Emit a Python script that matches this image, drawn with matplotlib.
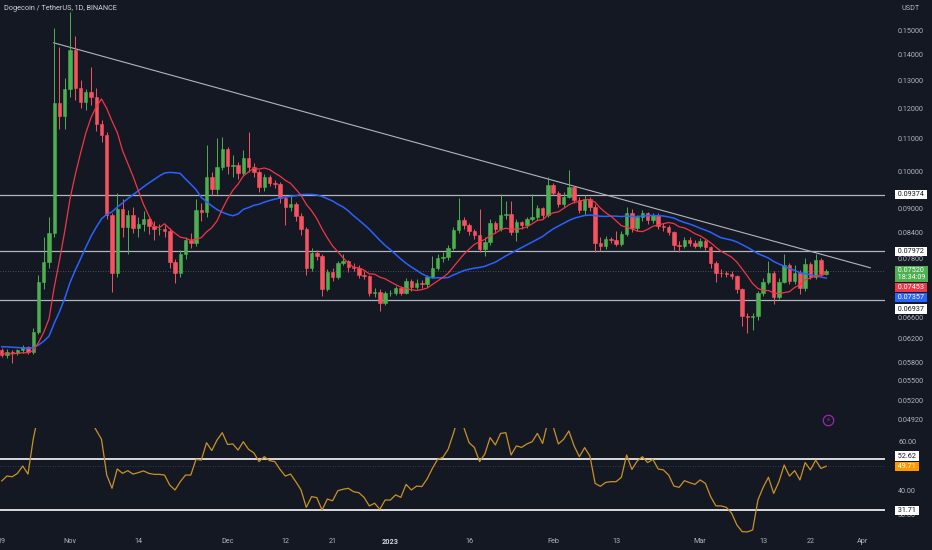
import numpy as np
import pandas as pd
import matplotlib
matplotlib.use("Agg")
import matplotlib.pyplot as plt
from matplotlib.ticker import NullLocator, NullFormatter

plt.rcParams['font.family'] = ['Roboto', 'DejaVu Sans']

# ---------------- data (day index 0 = 1 Nov 2022) ----------------
first_day = -13
first_open = 0.0600
closes = [
    0.0592, 0.0597, 0.0596, 0.0600, 0.0605, 0.0597, 0.0633, 0.0730, 0.0773, 0.0840,
    0.1218, 0.1174, 0.1269, 0.1418, 0.1272, 0.1222, 0.1257, 0.1240, 0.1147, 0.1112,
    0.0884, 0.0749, 0.0899, 0.0854, 0.0884, 0.0851, 0.0861, 0.0873, 0.0856, 0.0849,
    0.0850, 0.0845, 0.0773, 0.0749, 0.0791, 0.0823, 0.0816, 0.0897, 0.0892, 0.0986,
    0.0953, 0.1014, 0.1068, 0.1017, 0.1020, 0.0997, 0.1041, 0.1014, 0.1000, 0.0958,
    0.0986, 0.0969, 0.0967, 0.0928, 0.0904, 0.0912, 0.0881, 0.0849, 0.0760, 0.0793,
    0.0786, 0.0715, 0.0751, 0.0740, 0.0771, 0.0775, 0.0762, 0.0760, 0.0745, 0.0742,
    0.0706, 0.0710, 0.0687, 0.0706, 0.0708, 0.0717, 0.0708, 0.0732, 0.0720, 0.0727,
    0.0725, 0.0740, 0.0760, 0.0781, 0.0783, 0.0805, 0.0847, 0.0871, 0.0860, 0.0844,
    0.0834, 0.0802, 0.0818, 0.0864, 0.0849, 0.0884, 0.0887, 0.0842, 0.0866, 0.0858,
    0.0873, 0.0878, 0.0902, 0.0884, 0.0963, 0.0942, 0.0912, 0.0931, 0.0958, 0.0923,
    0.0897, 0.0926, 0.0904, 0.0816, 0.0809, 0.0825, 0.0822, 0.0814, 0.0837, 0.0889,
    0.0851, 0.0878, 0.0888, 0.0871, 0.0884, 0.0857, 0.0855, 0.0842, 0.0811, 0.0810,
    0.0823, 0.0816, 0.0810, 0.0821, 0.0807, 0.0771, 0.0749, 0.0748, 0.0747, 0.0742,
    0.0715, 0.0662, 0.0660, 0.0662, 0.0706, 0.0730, 0.0749, 0.0699, 0.0730, 0.0766,
    0.0732, 0.0749, 0.0717, 0.0768, 0.0740, 0.0777, 0.0747, 0.0752,
]
highs = [
    0.0604, 0.0602, 0.0601, 0.0603, 0.0610, 0.0608, 0.0640, 0.0745, 0.0830, 0.0880,
    0.1510, 0.1430, 0.1310, 0.1580, 0.1477, 0.1300, 0.1270, 0.1350, 0.1272, 0.1160,
    0.1120, 0.0890, 0.0942, 0.0925, 0.0897, 0.0905, 0.0880, 0.0895, 0.0880, 0.0870,
    0.0862, 0.0858, 0.0852, 0.0780, 0.0800, 0.0830, 0.0840, 0.0925, 0.0915, 0.1080,
    0.1000, 0.1102, 0.1105, 0.1075, 0.1050, 0.1030, 0.1065, 0.1120, 0.1025, 0.1005,
    0.0995, 0.0992, 0.0978, 0.0972, 0.0935, 0.0935, 0.0918, 0.0890, 0.0855, 0.0805,
    0.0800, 0.0790, 0.0758, 0.0760, 0.0776, 0.0790, 0.0778, 0.0770, 0.0765, 0.0752,
    0.0745, 0.0718, 0.0715, 0.0712, 0.0714, 0.0722, 0.0722, 0.0738, 0.0736, 0.0735,
    0.0733, 0.0745, 0.0785, 0.0790, 0.0795, 0.0812, 0.0855, 0.0929, 0.0880, 0.0865,
    0.0850, 0.0900, 0.0830, 0.0875, 0.0870, 0.0940, 0.0920, 0.0920, 0.0875, 0.0870,
    0.0880, 0.0940, 0.0910, 0.0905, 0.0985, 0.0968, 0.0948, 0.0945, 0.1005, 0.0962,
    0.0930, 0.0935, 0.0930, 0.0912, 0.0830, 0.0832, 0.0830, 0.0845, 0.0845, 0.0905,
    0.0900, 0.0885, 0.0898, 0.0892, 0.0890, 0.0888, 0.0865, 0.0860, 0.0845, 0.0820,
    0.0830, 0.0830, 0.0822, 0.0828, 0.0825, 0.0810, 0.0775, 0.0758, 0.0754, 0.0752,
    0.0745, 0.0718, 0.0668, 0.0668, 0.0712, 0.0738, 0.0775, 0.0752, 0.0738, 0.0790,
    0.0770, 0.0765, 0.0755, 0.0782, 0.0772, 0.0790, 0.0782, 0.0758,
]
lows = [
    0.0588, 0.0587, 0.0578, 0.0592, 0.0596, 0.0593, 0.0594, 0.0628, 0.0715, 0.0760,
    0.0830, 0.1130, 0.1130, 0.1240, 0.1230, 0.1200, 0.1195, 0.1210, 0.1125, 0.1090,
    0.0875, 0.0710, 0.0740, 0.0830, 0.0790, 0.0840, 0.0830, 0.0845, 0.0838, 0.0823,
    0.0835, 0.0830, 0.0760, 0.0728, 0.0740, 0.0780, 0.0805, 0.0810, 0.0870, 0.0880,
    0.0935, 0.0940, 0.1005, 0.0995, 0.0985, 0.0980, 0.0990, 0.1000, 0.0985, 0.0945,
    0.0948, 0.0960, 0.0955, 0.0915, 0.0860, 0.0895, 0.0870, 0.0835, 0.0745, 0.0752,
    0.0778, 0.0700, 0.0712, 0.0732, 0.0735, 0.0765, 0.0750, 0.0752, 0.0738, 0.0735,
    0.0700, 0.0698, 0.0672, 0.0684, 0.0700, 0.0703, 0.0702, 0.0705, 0.0712, 0.0715,
    0.0718, 0.0720, 0.0737, 0.0755, 0.0772, 0.0778, 0.0800, 0.0840, 0.0850, 0.0835,
    0.0825, 0.0795, 0.0785, 0.0812, 0.0840, 0.0845, 0.0875, 0.0835, 0.0820, 0.0850,
    0.0852, 0.0868, 0.0872, 0.0875, 0.0880, 0.0935, 0.0905, 0.0905, 0.0928, 0.0915,
    0.0888, 0.0885, 0.0895, 0.0795, 0.0798, 0.0802, 0.0815, 0.0810, 0.0808, 0.0832,
    0.0842, 0.0845, 0.0870, 0.0862, 0.0865, 0.0850, 0.0845, 0.0835, 0.0800, 0.0795,
    0.0805, 0.0810, 0.0805, 0.0805, 0.0800, 0.0760, 0.0730, 0.0740, 0.0740, 0.0735,
    0.0708, 0.0643, 0.0630, 0.0636, 0.0655, 0.0700, 0.0725, 0.0685, 0.0695, 0.0728,
    0.0725, 0.0725, 0.0705, 0.0712, 0.0735, 0.0735, 0.0742, 0.0745,
]
# closes before the visible range, only used to warm up the moving averages
warmup_closes = [
    0.0605, 0.0610, 0.0615, 0.0618, 0.0615, 0.0612, 0.0610, 0.0608, 0.0615, 0.0625,
    0.0630, 0.0620, 0.0615, 0.0610, 0.0605, 0.0600, 0.0595, 0.0592, 0.0595, 0.0598,
    0.0594, 0.0592, 0.0590, 0.0594,
]
rsi_values = [
    43.7, 45.7, 45.4, 46.8, 49.8, 46.5, 60.8, 71.0, 76.0, 80.0,
    88.0, 84.0, 86.0, 89.0, 80.0, 76.0, 72.0, 68.0, 64.4, 60.7,
    46.1, 40.7, 48.6, 46.8, 47.9, 46.5, 47.1, 47.8, 46.8, 46.4,
    46.4, 46.1, 42.0, 40.0, 43.4, 46.1, 46.1, 52.5, 52.2, 59.3,
    56.1, 60.4, 63.4, 58.6, 58.8, 56.3, 59.7, 56.6, 55.2, 51.6,
    53.6, 52.0, 51.6, 48.4, 45.7, 46.5, 43.4, 40.0, 32.9, 37.3,
    36.9, 31.8, 36.3, 35.6, 39.7, 40.3, 40.7, 39.3, 38.9, 37.0,
    33.5, 34.6, 32.1, 35.9, 35.9, 38.0, 37.0, 42.3, 40.0, 41.6,
    41.4, 44.5, 48.8, 52.5, 53.3, 56.6, 63.0, 70.0, 65.5, 59.3,
    57.4, 51.6, 54.7, 61.4, 58.4, 63.1, 63.4, 54.3, 58.0, 57.4,
    58.8, 59.7, 63.1, 59.0, 68.0, 66.0, 58.8, 60.7, 64.1, 58.0,
    53.6, 57.3, 53.9, 42.7, 41.5, 43.1, 43.4, 43.4, 45.2, 54.3,
    48.4, 51.8, 53.6, 51.2, 52.5, 48.6, 48.2, 46.1, 41.6, 41.1,
    43.8, 43.0, 42.3, 44.1, 42.7, 37.3, 33.5, 33.5, 32.9, 30.5,
    25.7, 23.0, 22.9, 23.7, 35.9, 41.1, 45.2, 38.6, 43.4, 50.2,
    45.7, 47.9, 44.1, 51.2, 48.2, 52.2, 48.8, 49.71,
]
ma_fast_len = 10
ma_slow_len = 25

levels = [0.09374, 0.07972, 0.06937]
trend_days = [-3.1, 152.4]
trend_prices = [0.1448, 0.0760]
last_price = 0.07520
countdown = "18:34:09"

rsi_levels = [52.62, 31.71]
rsi_last = 49.71

price_ticks = [0.15, 0.14, 0.13, 0.12, 0.11, 0.10, 0.09, 0.084, 0.078,
               0.066, 0.062, 0.058, 0.055, 0.052, 0.0492]
rsi_ticks = [60, 40, 30]
x_tick_days = [-13, 0, 13, 30, 41, 50, 61, 76, 92, 104, 120, 132, 141, 151]
x_tick_labels = ["19", "Nov", "14", "Dec", "12", "21", "2023", "16", "Feb",
                 "13", "Mar", "13", "22", "Apr"]
alert_day, alert_price = 144.4, 0.0492

# ---------------- styling ----------------
BG = '#141823'
UP = '#4caf50'
DOWN = '#f7525f'
TXT = '#b2b5be'
LEVEL = '#b2b5be'
FS = 5.2

closes = np.array(closes)
highs = np.array(highs)
lows = np.array(lows)
days = np.arange(first_day, first_day + len(closes))
opens = np.r_[first_open, closes[:-1]]
up = closes >= opens
colors = np.where(up, UP, DOWN)

series = pd.Series(warmup_closes + list(closes))
ma_fast = series.rolling(ma_fast_len).mean().iloc[len(warmup_closes):].to_numpy()
ma_slow = series.rolling(ma_slow_len).mean().iloc[len(warmup_closes):].to_numpy()

W, H = 932, 550
plot_right = 885
rsi_top, bottom = 428, 534

fig = plt.figure(figsize=(W / 100, H / 100), dpi=100)
fig.patch.set_facecolor(BG)
ax = fig.add_axes([0, 1 - bottom / H, plot_right / W, bottom / H])
rax = fig.add_axes([0, 1 - bottom / H, plot_right / W, (bottom - rsi_top) / H], sharex=ax)
ax.set_facecolor(BG)
rax.set_facecolor('none')

for a in (ax, rax):
    for s in a.spines.values():
        s.set_visible(False)

ax.set_yscale('log')
ax.set_ylim(0.035442, 0.163694)
ax.set_xlim(-13.33, 155.2)

# horizontal levels and trend line
for lv in levels:
    ax.axhline(lv, color=LEVEL, lw=0.9, zorder=2)
ax.axhline(last_price, color='#5d606b', lw=0.6, ls=(0, (1, 2)), zorder=1)
ax.plot(trend_days, trend_prices, color=LEVEL, lw=0.8, zorder=2)

# candles
ax.vlines(days, lows, highs, colors=colors, lw=0.7, zorder=3)
ax.bar(days, np.abs(closes - opens), bottom=np.minimum(opens, closes), width=0.66,
       color=colors, edgecolor=colors, linewidth=0.4, zorder=4)

# moving averages
ax.plot(days, ma_slow, color='#2962ff', lw=1.1, zorder=5)
ax.plot(days, ma_fast, color='#f23645', lw=0.9, zorder=5)

# alert icon
ax.plot([alert_day], [alert_price], marker='o', ms=7.5, mfc='none', mec='#9c27b0',
        mew=0.9, zorder=6)
ax.text(alert_day, alert_price, '\u26a1', color='#9c27b0', fontsize=5,
        ha='center', va='center', family=['DejaVu Sans'], zorder=7)

# RSI
rax.set_ylim(22.04, 65.31)
for lv in rsi_levels:
    rax.axhline(lv, color='#e8e8ec', lw=1.3, zorder=2)
rax.axhline(rsi_last, color='#434651', lw=0.6, ls=(0, (1, 2)), zorder=1)
rax.plot(days, rsi_values, color='#c99225', lw=0.9, zorder=3)

# axis ticks
ax.yaxis.tick_right()
ax.set_yticks(price_ticks, [f"{t:.5f}" for t in price_ticks])
ax.yaxis.set_minor_locator(NullLocator())
ax.yaxis.set_minor_formatter(NullFormatter())
ax.tick_params(axis='y', which='both', length=0, pad=9.4, labelsize=FS, labelcolor=TXT)
ax.tick_params(axis='x', length=0, labelbottom=False)

rax.yaxis.tick_right()
rax.set_yticks(rsi_ticks, [f"{t:.2f}" for t in rsi_ticks])
rax.tick_params(axis='y', length=0, pad=9.4, labelsize=FS, labelcolor=TXT)
rax.set_xticks(x_tick_days, x_tick_labels)
rax.tick_params(axis='x', length=0, pad=3.0, labelsize=FS, labelcolor=TXT)
for lab in rax.get_xticklabels():
    if lab.get_text() == "2023":
        lab.set_fontweight('bold')
        lab.set_color('#d1d4dc')
ax.set_xlim(-13.33, 155.2)


def tag(axis, value, text, fc, tc, dy=0.0, size=FS):
    axis.annotate(text, xy=(1, value), xycoords=('axes fraction', 'data'),
                  xytext=(8.0, dy), textcoords='offset points', ha='left', va='center',
                  fontsize=size, color=tc, linespacing=1.0,
                  bbox=dict(boxstyle='square,pad=0.15', fc=fc, ec='none'),
                  annotation_clip=False, zorder=20)


tag(ax, levels[0], " %.5f " % levels[0], 'white', '#131722')
tag(ax, levels[1], " %.5f " % levels[1], 'white', '#131722')
tag(ax, last_price, " %.5f \n %s " % (last_price, countdown), UP, 'white', dy=-1.8)
tag(ax, ma_fast[-1], " %.5f " % 0.07453, '#f23645', 'white', dy=-10.0)
tag(ax, ma_slow[-1], " %.5f " % 0.07357, '#2962ff', 'white', dy=-14.0)
tag(ax, levels[2], " %.5f " % levels[2], 'white', '#131722', dy=-6.8)
tag(rax, rsi_levels[0], " %.2f " % rsi_levels[0], 'white', '#131722', dy=2.2)
tag(rax, rsi_last, " %.2f " % rsi_last, '#ff9800', 'white')
tag(rax, rsi_levels[1], " %.2f " % rsi_levels[1], 'white', '#131722')

fig.text(4 / W, 1 - 9 / H, "Dogecoin / TetherUS, 1D, BINANCE", color='#d1d4dc',
         fontsize=FS, ha='left', va='center')
fig.text(902 / W, 1 - 8 / H, "USDT", color=TXT, fontsize=FS, ha='left', va='center')

fig.savefig("out.png", dpi=100, facecolor=BG)
